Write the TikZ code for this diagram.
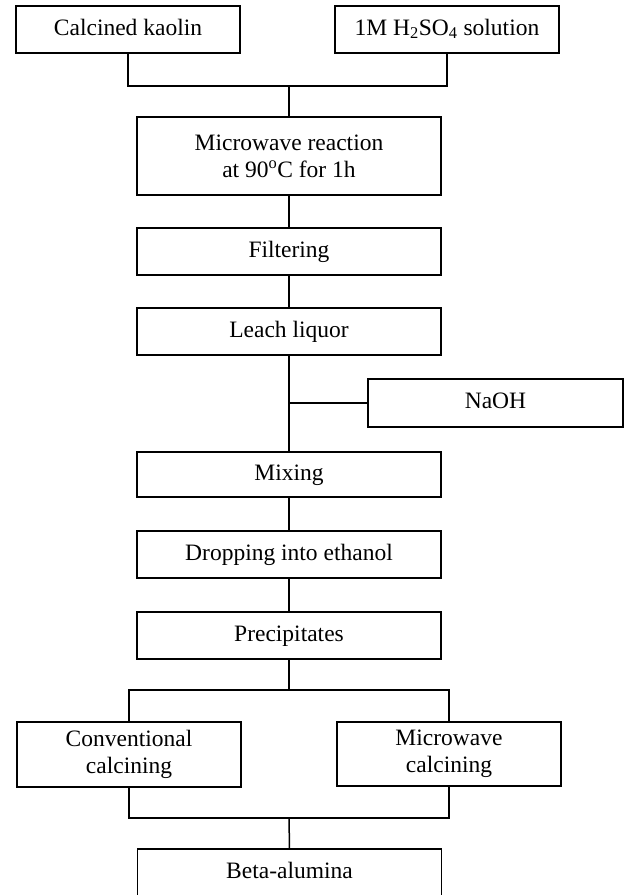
\documentclass[tikz,border=0pt]{standalone}
\usepackage{fontspec}
\setmainfont{Liberation Serif}
\begin{document}
\begin{tikzpicture}[x=1pt,y=-1pt,
  box/.style={draw=black, line width=1.6pt, fill=white, rectangle, inner sep=0pt,
    align=center, font=\fontsize{23.5}{27}\selectfont},
  main/.style={box, minimum width=304pt, minimum height=47pt},
  side/.style={box, minimum width=224pt, minimum height=47pt},
  oneline/.style={text height=16pt, text depth=5pt},
  link/.style={draw=black, line width=1.5pt}]
\useasboundingbox (0,0) rectangle (632,895);
\fill[white] (0,0) rectangle (632,895);
\clip (0,0) rectangle (632,895);
% nodes
\node[side, oneline] (ck) at (128,29.5) {Calcined kaolin};
\node[side, oneline] (hs) at (447,29.5) {1M H\textsubscript{2}SO\textsubscript{4} solution};
\node[main, minimum height=78pt] (mr) at (289,156) {Microwave reaction\\at 90\textsuperscript{o}C for 1h};
\node[main, oneline] (fi) at (289,251.5) {Filtering};
\node[main, oneline] (ll) at (289,331.5) {Leach liquor};
\node[box, oneline, minimum width=255pt, minimum height=48pt] (na) at (495.5,403) {NaOH};
\node[main, oneline, minimum height=45pt] (mx) at (289,474.5) {Mixing};
\node[main, oneline] (dr) at (289,554.5) {Dropping into ethanol};
\node[main, oneline] (pr) at (289,635.5) {Precipitates};
\node[side, minimum height=65pt] (cc) at (129,754.5) {Conventional\\calcining};
\node[side, minimum height=64pt] (mc) at (449,754) {Microwave\\calcining};
\node[main, oneline] (ba) at (289.5,872.5) {Beta-alumina};
% junctions
\coordinate (j1) at (289,86);
\coordinate (j2) at (289,690);
\coordinate (j3) at (289,818);
% connectors
\draw[link] (ck.south) |- (j1) -| (hs.south);
\draw[link] (j1) -- (mr.north);
\draw[link] (mr.south) -- (fi.north);
\draw[link] (fi.south) -- (ll.north);
\draw[link] (ll.south) -- (mx.north);
\draw[link] (na.west) -- (ll.south |- na.west);
\draw[link] (mx.south) -- (dr.north);
\draw[link] (dr.south) -- (pr.north);
\draw[link] (pr.south) -- (j2);
\draw[link] (cc.north) |- (j2) -| (mc.north);
\draw[link] (cc.south) |- (j3) -| (mc.south);
\draw[link] (j3) -- (ba.north);
\end{tikzpicture}
\end{document}
